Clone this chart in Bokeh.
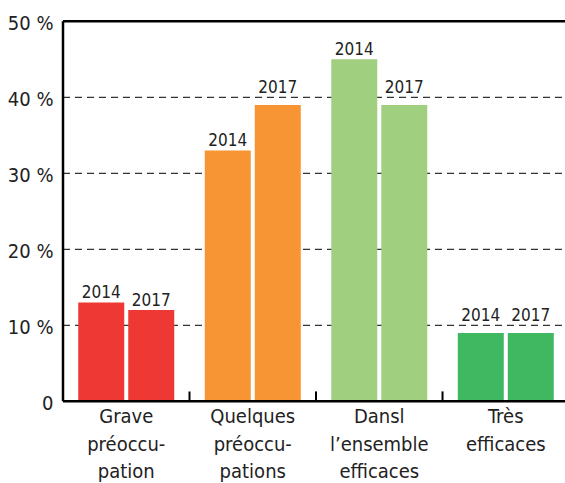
from bokeh.plotting import figure
from bokeh.models import Range1d, ColumnDataSource
from bokeh.core.properties import value
from bokeh.embed import file_html
from bokeh.resources import INLINE

categories = ["Grave\npréoccu-\npation", "Quelques\npréoccu-\npations",
              "Dansl\nl\u2019ensemble\nefficaces", "Très\nefficaces"]
years = ["2014", "2017"]
values_2014 = [13, 33, 45, 9]
values_2017 = [12, 39, 39, 9]
colors = ["#EE3833", "#F79433", "#A0CF80", "#40B862"]
y_ticks = [0, 10, 20, 30, 40, 50]
y_tick_labels = ["0", "10 %", "20 %", "30 %", "40 %", "50 %"]
group_bounds = [1, 2, 3]

FONT = "DejaVu Sans Condensed"
TXT = "#222222"
X_END = 3.972

# the frame covers the whole canvas; axes are drawn by hand
p = figure(width=565, height=483, output_backend="svg", toolbar_location=None,
           x_range=Range1d(-0.494, X_END), y_range=Range1d(-10.82, 52.74),
           min_border_left=0, min_border_right=0, min_border_top=0, min_border_bottom=0)
p.outline_line_color = None
p.background_fill_color = "white"
p.border_fill_color = "white"
p.xaxis.visible = False
p.yaxis.visible = False
p.xgrid.grid_line_color = None
p.ygrid.grid_line_color = None

# dashed gridlines
grid = y_ticks[1:-1]
p.segment(x0=[0] * len(grid), y0=grid, x1=[X_END] * len(grid), y1=grid,
          line_color="#333333", line_width=1.2, line_dash="7 5")

centers = [i + 0.5 for i in range(len(categories))]
off = 0.1976
bw = 0.3636
xs, tops, cols, labs, ly = [], [], [], [], []
for i, c in enumerate(centers):
    for dx, v, yr in ((-off, values_2014[i], years[0]), (off, values_2017[i], years[1])):
        xs.append(c + dx)
        tops.append(v)
        cols.append(colors[i])
        labs.append(yr)
        # lift a label above a gridline that sits just over the bar
        lift = [g for g in grid if 0 < g - v <= 1.5]
        ly.append(lift[0] if lift else v)
src = ColumnDataSource(dict(x=xs, top=tops, color=cols, label=labs, ly=ly))
p.vbar(x="x", top="top", width=bw, bottom=0, color="color", line_color=None, source=src)
p.text(x="x", y="ly", text="label", source=src, text_align="center", text_baseline="bottom",
       y_offset=-4.5, text_font=value(FONT), text_font_size="17px", text_color=TXT)

# top line, x axis line, y axis line, group separator ticks
p.segment(x0=[0, 0], y0=[y_ticks[-1], 0], x1=[X_END, X_END], y1=[y_ticks[-1], 0],
          line_color="black", line_width=2.5)
p.segment(x0=[0], y0=[0], x1=[0], y1=[y_ticks[-1]], line_color="black", line_width=2.5)
p.segment(x0=group_bounds, y0=[0] * 3, x1=group_bounds, y1=[1.3] * 3,
          line_color="black", line_width=2)

# y tick labels
p.text(x=[0] * len(y_ticks), y=y_ticks, text=y_tick_labels, text_align="right",
       text_baseline="middle", x_offset=-9.5, y_offset=2, text_font=value(FONT),
       text_font_size="20px", text_color=TXT)

# category labels, one line at a time
cx, cy, ct, co = [], [], [], []
for c, cat in zip(centers, categories):
    for j, line in enumerate(cat.split("\n")):
        cx.append(c)
        cy.append(0)
        ct.append(line)
        co.append(15 + j * 27.5)
csrc = ColumnDataSource(dict(x=cx, y=cy, text=ct, yo=co))
p.text(x="x", y="y", text="text", y_offset="yo", source=csrc, text_align="center",
       text_baseline="middle", text_font=value(FONT), text_font_size="20px", text_color=TXT)

open("out.html", "w").write(file_html(p, INLINE))
